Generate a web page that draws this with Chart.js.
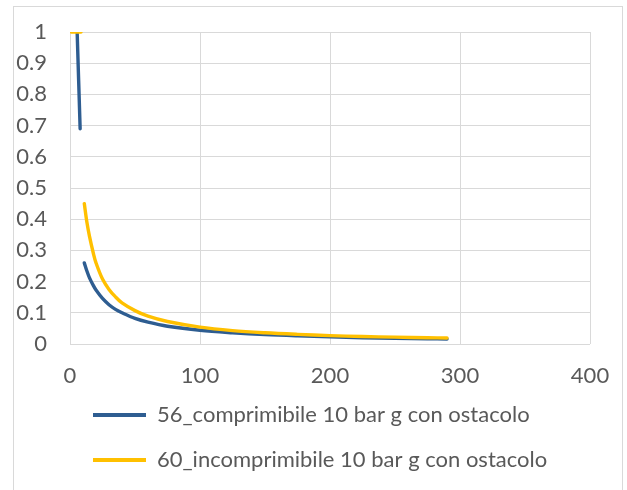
<!DOCTYPE html>
<html>
<head>
<meta charset="utf-8">
<script src="https://cdn.jsdelivr.net/npm/chart.js@4"></script>
<style>
  html, body { margin: 0; padding: 0; background: #ffffff; }
  #wrap { position: relative; width: 627px; height: 490px; overflow: hidden; }
  #frame { position: absolute; left: 13px; top: 6px; width: 610px; height: 500px;
           border: 1px solid #d9d9d9; box-sizing: border-box; pointer-events: none; }
  canvas { position: absolute; left: 0; top: 0; }
</style>
</head>
<body>
<div id="wrap">
  <div id="frame"></div>
  <canvas id="c" width="627" height="490"></canvas>
</div>
<script>
// Series names
const seriesNames = [
  '56_comprimibile 10 bar g con ostacolo',
  '60_incomprimibile 10 bar g con ostacolo'
];

// 56_comprimibile: x positions and values (null = break in the line)
const compX = [5.5, 7.8, 9.5, 11, 13, 15, 18, 20, 25, 30, 35, 40, 50, 60, 75, 100, 125, 150, 175, 200, 225, 250, 275, 290];
const compY = [1.0, 0.69, null, 0.26, 0.234, 0.212, 0.187, 0.173, 0.146, 0.126, 0.111, 0.100, 0.082, 0.070, 0.057, 0.044, 0.036, 0.030, 0.026, 0.023, 0.020, 0.018, 0.017, 0.016];

// 60_incomprimibile: x positions and values (null = break in the line)
const incX = [1, 8.5, 9.5, 11, 13, 15, 18, 20, 25, 30, 35, 40, 50, 60, 75, 100, 125, 150, 175, 200, 225, 250, 275, 290];
const incY = [1.0, 1.0, null, 0.45, 0.39, 0.345, 0.29, 0.26, 0.208, 0.175, 0.151, 0.132, 0.107, 0.089, 0.072, 0.054, 0.043, 0.036, 0.031, 0.027, 0.024, 0.022, 0.020, 0.019];

// Axis tick labels
const xTickLabels = ['0', '100', '200', '300', '400'];
const yTickLabels = ['0', '0.1', '0.2', '0.3', '0.4', '0.5', '0.6', '0.7', '0.8', '0.9', '1'];

const pts = (xs, ys) => xs.map((x, i) => ({ x: x, y: ys[i] }));

const FONT = 'Lato, "Noto Sans", sans-serif';
const TEXT = '#595959';
const GRID = '#d9d9d9';

new Chart(document.getElementById('c'), {
  type: 'line',
  data: {
    datasets: [
      {
        label: seriesNames[0],
        data: pts(compX, compY),
        borderColor: '#2E5D91',
        backgroundColor: '#2E5D91',
        borderWidth: 3.4,
        borderCapStyle: 'round',
        borderJoinStyle: 'round',
        pointRadius: 0,
        tension: 0.35,
        spanGaps: false,
        order: 1
      },
      {
        label: seriesNames[1],
        data: pts(incX, incY),
        borderColor: '#FFC000',
        backgroundColor: '#FFC000',
        borderWidth: 3.4,
        borderCapStyle: 'round',
        borderJoinStyle: 'round',
        pointRadius: 0,
        tension: 0.35,
        spanGaps: false,
        order: 0
      }
    ]
  },
  options: {
    responsive: false,
    animation: false,
    devicePixelRatio: 1,
    layout: { padding: { left: 0, top: 32, right: 37, bottom: 9 } },
    scales: {
      x: {
        type: 'linear',
        min: 0, max: 400,
        ticks: {
          stepSize: 100,
          color: TEXT,
          font: { family: FONT, size: 22, lineHeight: 1.2 },
          mirror: true,
          padding: -45,
          maxRotation: 0,
          callback: (v, i) => xTickLabels[i]
        },
        grid: { color: GRID, lineWidth: 1, drawTicks: false },
        border: { display: false },
        afterFit: s => { s.height = 37; }
      },
      y: {
        min: 0, max: 1,
        ticks: {
          stepSize: 0.1,
          color: TEXT,
          font: { family: FONT, size: 22 },
          padding: 23,
          callback: (v, i) => yTickLabels[i]
        },
        grid: { color: GRID, lineWidth: 1, drawTicks: false },
        border: { display: false },
        afterFit: s => { s.width = 70; s.paddingTop = 0; s.paddingBottom = 0; }
      }
    },
    plugins: {
      tooltip: { enabled: false },
      legend: {
        position: 'bottom',
        align: 'start',
        fullSize: false,
        labels: {
          color: TEXT,
          font: { family: FONT, size: 22 },
          boxWidth: 53,
          boxHeight: 4,
          padding: 23,
          sort: (a, b) => a.datasetIndex - b.datasetIndex,
          generateLabels: chart => Chart.defaults.plugins.legend.labels.generateLabels(chart)
            .map(item => Object.assign(item, { lineWidth: 0, fillStyle: item.strokeStyle }))
        }
      }
    }
  }
});
</script>
</body>
</html>
